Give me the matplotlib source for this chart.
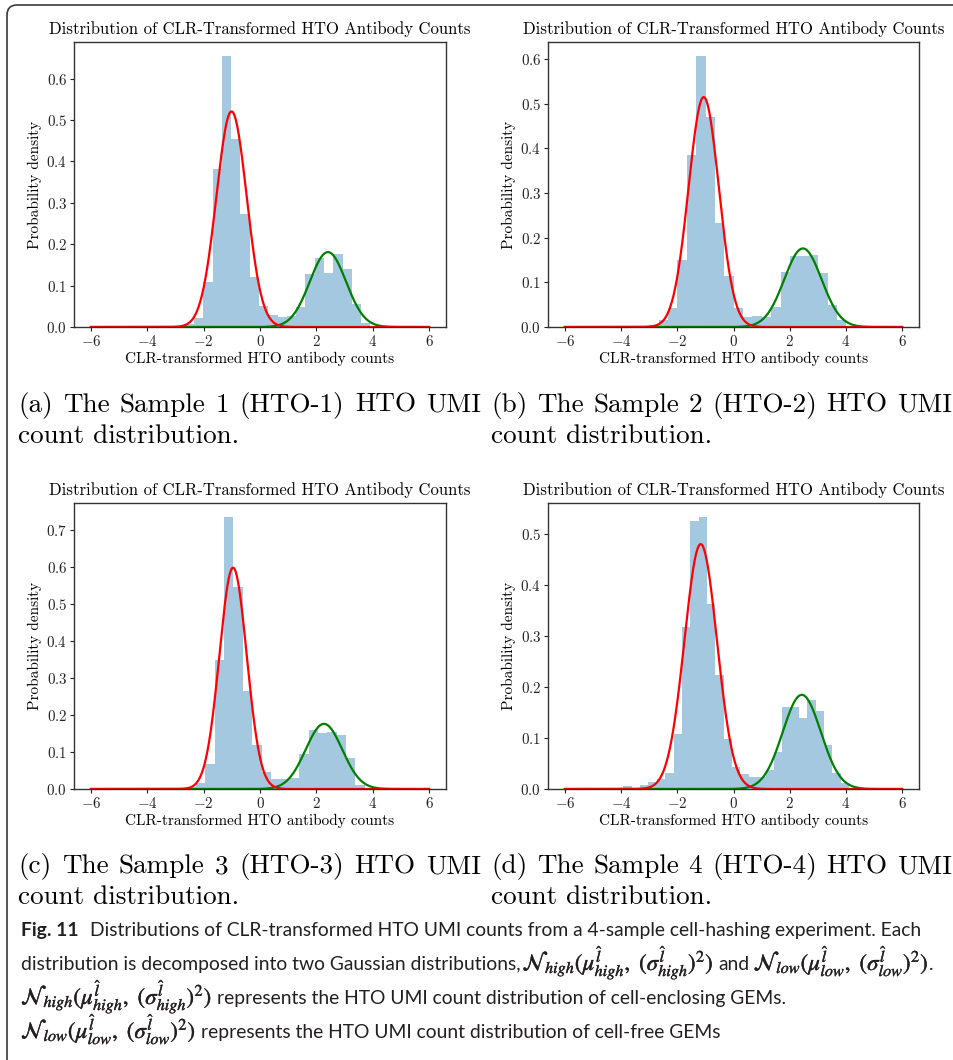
import numpy as np
import matplotlib.pyplot as plt
import matplotlib.patheffects as pe
from matplotlib.patches import FancyBboxPatch

plt.rcParams['font.family'] = 'cmr10'
plt.rcParams['mathtext.fontset'] = 'cm'
plt.rcParams['axes.formatter.use_mathtext'] = True

# ---- values ----
# histograms: left edge of first bin, bin width, bar heights (density)
hist_start = [-3.66, -4.00, -2.94, -3.92]
bin_width = [0.3296, 0.334, 0.333, 0.2976]

heights_1 = [0.003, 0.0, 0.0, 0.008, 0.021, 0.108, 0.381, 0.656, 0.454, 0.272,
             0.12, 0.05, 0.03, 0.024, 0.026, 0.048, 0.127, 0.167, 0.130, 0.176,
             0.141, 0.055, 0.009]
heights_2 = [0.001, 0.001, 0.002, 0.004, 0.015, 0.043, 0.151, 0.385, 0.608, 0.47,
             0.233, 0.115, 0.042, 0.022, 0.024, 0.022, 0.045, 0.124, 0.159, 0.159,
             0.161, 0.12, 0.049, 0.015]
heights_3 = [0.002, 0.005, 0.017, 0.067, 0.349, 0.736, 0.547, 0.265, 0.12, 0.045,
             0.026, 0.026, 0.031, 0.095, 0.16, 0.151, 0.154, 0.147, 0.085, 0.012]
heights_4 = [0.005, 0.001, 0.007, 0.013, 0.02, 0.031, 0.108, 0.318, 0.527, 0.535,
             0.363, 0.223, 0.098, 0.044, 0.03, 0.024, 0.024, 0.037, 0.073, 0.162,
             0.162, 0.139, 0.175, 0.154, 0.087, 0.031, 0.011]
heights = [heights_1, heights_2, heights_3, heights_4]

# fitted gaussians (red = low / cell-free, green = high / cell-enclosing)
low_mu = [-1.01, -1.06, -0.956, -1.167]
low_sd = [0.537, 0.539, 0.484, 0.579]
low_peak = [0.521, 0.515, 0.598, 0.481]
high_mu = [2.41, 2.47, 2.27, 2.43]
high_sd = [0.643, 0.664, 0.648, 0.677]
high_peak = [0.181, 0.176, 0.176, 0.185]

sub_first = ['(a) The Sample 1 (HTO-1) HTO UMI', '(b) The Sample 2 (HTO-2) HTO UMI',
             '(c) The Sample 3 (HTO-3) HTO UMI', '(d) The Sample 4 (HTO-4) HTO UMI']
sub_second = 'count distribution.'

nh = r'$\mathcal{N}_{high}(\mu^{\hat{l}}_{high},\ (\sigma^{\hat{l}}_{high})^2)$'
nl = r'$\mathcal{N}_{low}(\mu^{\hat{l}}_{low},\ (\sigma^{\hat{l}}_{low})^2)$'
# caption rows: (text, style, gap before in em)
cap_rows = [
    [('Fig. 11', 'bold', 0),
     ('Distributions of CLR-transformed HTO UMI counts from a 4-sample '
      'cell-hashing experiment. Each', 'text', 0.6)],
    [('distribution is decomposed into two Gaussian distributions,', 'text', 0),
     (nh, 'math', 0.1), ('and', 'text', 0.25), (nl, 'math', 0.2), ('.', 'text', 0.02)],
    [(nh, 'math', 0), ('represents the HTO UMI count distribution of cell-enclosing GEMs.',
                       'text', 0.25)],
    [(nl, 'math', 0), ('represents the HTO UMI count distribution of cell-free GEMs',
                       'text', 0.25)],
]

# ---- layout (pixels) ----
W, H = 954, 1060
fig = plt.figure(figsize=(W / 100, H / 100), dpi=100)
bg = fig.add_axes([0, 0, 1, 1])
bg.set_xlim(0, W)
bg.set_ylim(H, 0)
bg.axis('off')
bg.add_patch(FancyBboxPatch((7, 5), 1200, 1200, boxstyle='round,pad=0,rounding_size=10',
                            fill=False, ec='#3a3a3a', lw=1.2))
renderer = fig.canvas.get_renderer()


def width_of(t):
    return t.get_window_extent(renderer).width


boxes = [(74, 42, 446, 327), (548, 42, 919, 327), (74, 503, 446, 789), (548, 503, 919, 789)]
x = np.linspace(-6, 6, 600)
for i, (l, t, r, b) in enumerate(boxes):
    ax = fig.add_axes([l / W, 1 - b / H, (r - l) / W, (b - t) / H])
    edges = hist_start[i] + bin_width[i] * np.arange(len(heights[i]) + 1)
    centers = (edges[:-1] + edges[1:]) / 2
    ax.hist(centers, bins=edges, weights=heights[i], color='#1f77b4', alpha=0.4)
    high = high_peak[i] * np.exp(-0.5 * ((x - high_mu[i]) / high_sd[i]) ** 2)
    low = low_peak[i] * np.exp(-0.5 * ((x - low_mu[i]) / low_sd[i]) ** 2)
    ax.plot(x, high, color='green', lw=1.6)
    ax.plot(x, low, color='red', lw=1.6)
    ax.set_title('Distribution of CLR-Transformed HTO Antibody Counts', fontsize=12)
    ax.set_xlabel('CLR-transformed HTO antibody counts', fontsize=11, labelpad=2)
    ax.set_ylabel('Probability density', fontsize=11, labelpad=3)
    ax.set_xticks([-6, -4, -2, 0, 2, 4, 6])
    ax.tick_params(labelsize=10.8, length=2.6, width=0.8, pad=2.4, colors='#222222')
    for s in ax.spines.values():
        s.set_color('#333333')
        s.set_linewidth(1.0)

# ---- sub-captions (justified first line) ----
probe = bg.text(0, 0, sub_second, fontsize=20)
sub_size = 20 * 222 / width_of(probe)
probe.remove()

sub_x = [(18, 481), (491, 952), (18, 481), (491, 952)]
sub_y = [(412, 443), (412, 443), (873, 904), (873, 904)]
for i in range(4):
    x0, x1 = sub_x[i]
    y0, y1 = sub_y[i]
    words = sub_first[i].split(' ')
    texts = [bg.text(0, y0, w, fontsize=sub_size, va='baseline') for w in words]
    widths = [width_of(t) for t in texts]
    gap = (x1 - x0 - sum(widths)) / (len(words) - 1)
    xp = x0
    for t, w in zip(texts, widths):
        t.set_x(xp)
        xp += w + gap
    bg.text(x0, y1, sub_second, fontsize=sub_size, va='baseline')

# ---- figure caption ----
cap_x = 21
cap_y = [936, 970, 1004, 1038]
ink = '#231f20'


def seg_text(s, style, size):
    if style == 'bold':
        return bg.text(0, 0, s, family='Lato', weight='bold', fontsize=size,
                       va='baseline', color=ink)
    if style == 'math':
        return bg.text(0, 0, s, family='Lato', fontsize=size * 1.2, va='baseline',
                       color=ink, math_fontfamily='stix',
                       path_effects=[pe.withStroke(linewidth=0.25, foreground=ink)])
    return bg.text(0, 0, s, family='Lato', fontsize=size, va='baseline', color=ink)


s0 = 12
probes = [seg_text(s, st, s0) for s, st, g in cap_rows[0]]
total = sum(width_of(p) for p in probes) + sum(g for _, _, g in cap_rows[0]) * s0 * 100 / 72
cap_size = s0 * (918 - cap_x) / total
for p in probes:
    p.remove()

em = cap_size * 100 / 72
for row, yy in zip(cap_rows, cap_y):
    xp = cap_x
    for s, st, g in row:
        xp += g * em
        t = seg_text(s, st, cap_size)
        t.set_position((xp, yy))
        xp += width_of(t)

fig.savefig('out.png', dpi=100)
